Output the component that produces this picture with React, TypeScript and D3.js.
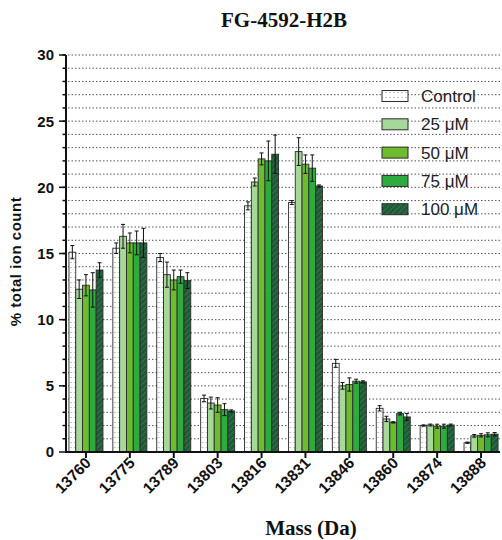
import React from 'react';
import * as d3 from 'd3';

const masses = ['13760', '13775', '13789', '13803', '13816', '13831', '13846', '13860', '13874', '13888'];
const seriesNames = ['Control', '25 μM', '50 μM', '75 μM', '100 μM'];

const control = [15.1, 15.4, 14.7, 4.05, 18.6, 18.85, 6.7, 3.3, 2.0, 0.7];
const controlErr = [0.5, 0.4, 0.3, 0.25, 0.3, 0.15, 0.3, 0.2, 0.05, 0.05];
const um25 = [12.3, 16.3, 13.4, 3.7, 20.4, 22.7, 5.0, 2.5, 2.04, 1.22];
const um25Err = [0.7, 0.9, 0.95, 0.45, 0.3, 1.05, 0.25, 0.2, 0.07, 0.1];
const um50 = [12.6, 15.8, 13.0, 3.55, 22.15, 21.75, 5.1, 2.24, 1.95, 1.26];
const um50Err = [0.8, 0.75, 0.75, 0.55, 0.45, 0.7, 0.5, 0.05, 0.15, 0.12];
const um75 = [12.25, 15.8, 13.25, 3.2, 22.0, 21.45, 5.35, 2.9, 1.95, 1.3];
const um75Err = [1.3, 0.9, 0.5, 0.45, 1.5, 1.0, 0.15, 0.1, 0.15, 0.15];
const um100 = [13.75, 15.8, 12.95, 3.1, 22.5, 20.1, 5.3, 2.65, 2.04, 1.35];
const um100Err = [0.55, 1.1, 0.6, 0.08, 1.45, 0.08, 0.08, 0.25, 0.07, 0.12];

const yMajorTicks = [0, 5, 10, 15, 20, 25, 30];

const seriesValues = [control, um25, um50, um75, um100];
const seriesErrors = [controlErr, um25Err, um50Err, um75Err, um100Err];
const seriesFills = ['url(#dots)', '#a6d89a', '#6cbc2e', '#2dab3f', 'url(#hatch)'];

const W = 502;
const H = 540;
const axisX = 66;
const sans = '"Liberation Sans", Arial, sans-serif';
const serif = '"Liberation Serif", "Times New Roman", serif';

export default function App() {
  const x = d3.scaleBand<string>().domain(masses).range([64, 503]).paddingInner(0.225).paddingOuter(0.1125);
  const xs = d3.scaleBand<string>().domain(seriesNames).range([0, x.bandwidth()]);
  const y = d3.scaleLinear().domain([0, 30]).range([452, 55]);
  const minorTicks = d3.range(1, 31);

  return (
    <svg width={W} height={H} style={{ position: 'absolute', left: 0, top: 0 }}>
      <defs>
        <pattern id="dots" width={4} height={5} patternUnits="userSpaceOnUse">
          <rect width={4} height={5} fill="#fff" />
          <rect x={1.5} y={2} width={1} height={1} fill="#8a8a8a" />
        </pattern>
        <pattern id="hatch" width={4} height={4} patternUnits="userSpaceOnUse" patternTransform="rotate(45)">
          <rect width={4} height={4} fill="#1d5a35" />
          <line x1={0} y1={0} x2={0} y2={4} stroke="#4f8060" strokeWidth={1.2} />
        </pattern>
      </defs>

      <text x={284} y={27} textAnchor="middle" fontFamily={serif} fontWeight="bold" fontSize={21} fill="#111">
        FG-4592-H2B
      </text>

      {/* dotted grid */}
      {minorTicks.map((t) => (
        <line key={'g' + t} x1={axisX + 2} x2={500} y1={y(t)} y2={y(t)} stroke="#555" strokeWidth={1} strokeDasharray="1.5,2" />
      ))}

      {/* bars */}
      {masses.map((m, i) => (
        <g key={m} transform={`translate(${x(m)},0)`}>
          {seriesNames.map((s, k) => {
            const v = seriesValues[k][i];
            const e = seriesErrors[k][i];
            const bx = xs(s)!;
            const bw = xs.bandwidth();
            const cx = bx + bw / 2;
            return (
              <g key={s}>
                <rect x={bx} y={y(v)} width={bw} height={y(0) - y(v)} fill={seriesFills[k]} stroke="#2b2b2b" strokeWidth={0.9} />
                <line x1={cx} x2={cx} y1={y(v + e)} y2={y(v - e)} stroke="#111" strokeWidth={1} />
                <line x1={cx - 2} x2={cx + 2} y1={y(v + e)} y2={y(v + e)} stroke="#111" strokeWidth={1} />
                <line x1={cx - 2} x2={cx + 2} y1={y(v - e)} y2={y(v - e)} stroke="#111" strokeWidth={1} />
              </g>
            );
          })}
        </g>
      ))}

      {/* y axis */}
      <line x1={axisX} x2={axisX} y1={y(30)} y2={y(0)} stroke="#111" strokeWidth={2} />
      {minorTicks.map((t) => (
        <line key={'mt' + t} x1={axisX - 3.5} x2={axisX} y1={y(t)} y2={y(t)} stroke="#111" strokeWidth={1.5} />
      ))}
      {yMajorTicks.map((t) => (
        <g key={'yt' + t}>
          <line x1={axisX - 7} x2={axisX} y1={y(t)} y2={y(t)} stroke="#111" strokeWidth={1.5} />
          <text x={54} y={y(t)} dy="0.36em" textAnchor="end" fontFamily={sans} fontWeight="bold" fontSize={15} fill="#111">
            {t}
          </text>
        </g>
      ))}
      <text
        transform={`translate(21,${(y(0) + y(30)) / 2 + 8}) rotate(-90)`}
        textAnchor="middle"
        fontFamily={sans}
        fontWeight="bold"
        fontSize={15}
        letterSpacing={0.5}
        fill="#111"
      >
        % total ion count
      </text>

      {/* x axis */}
      <line x1={axisX - 1} x2={500} y1={y(0)} y2={y(0)} stroke="#111" strokeWidth={2} />
      {masses.map((m) => {
        const cx = x(m)! + x.bandwidth() / 2;
        return (
          <g key={'xt' + m}>
            <line x1={cx} x2={cx} y1={y(0)} y2={y(0) + 6} stroke="#111" strokeWidth={2} />
            <text
              transform={`translate(${cx + 6},${y(0) + 12}) rotate(-45)`}
              textAnchor="end"
              fontFamily={sans}
              fontWeight="bold"
              fontSize={15.5}
              fill="#111"
            >
              {m}
            </text>
          </g>
        );
      })}
      <text x={311} y={535} textAnchor="middle" fontFamily={serif} fontWeight="bold" fontSize={21} fill="#111">
        Mass (Da)
      </text>

      {/* legend */}
      {seriesNames.map((s, k) => {
        const cy = 96 + k * 28.3;
        return (
          <g key={'lg' + s}>
            <rect x={382} y={cy - 5.5} width={26} height={11} fill={seriesFills[k]} stroke="#2b2b2b" strokeWidth={1} />
            <text x={421} y={cy} dy="0.36em" fontFamily={sans} fontSize={17} fill="#222">
              {s}
            </text>
          </g>
        );
      })}
    </svg>
  );
}
